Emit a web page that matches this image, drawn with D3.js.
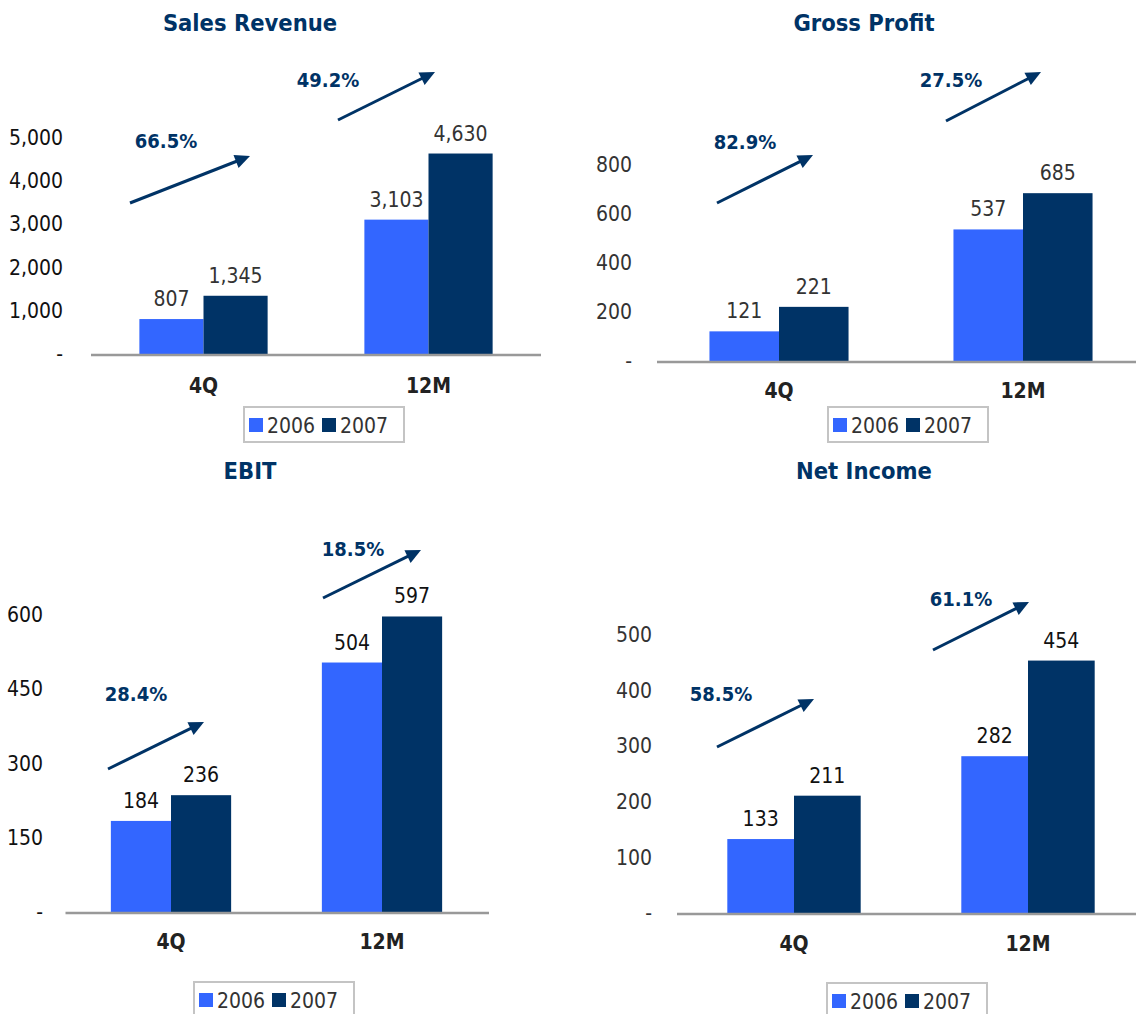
<!DOCTYPE html>
<html>
<head>
<meta charset="utf-8">
<script src="https://cdn.jsdelivr.net/npm/d3@7"></script>
<style>
  body { margin: 0; background: #fff; }
  svg { font-family: "DejaVu Sans Condensed", "DejaVu Sans", sans-serif; font-stretch: condensed; }
</style>
</head>
<body>
<div id="chart"></div>
<script>
const categories = ["4Q", "12M"];
const years = ["2006", "2007"];

const salesRevenue2006 = [807, 3103];
const salesRevenue2007 = [1345, 4630];
const grossProfit2006 = [121, 537];
const grossProfit2007 = [221, 685];
const ebit2006 = [184, 504];
const ebit2007 = [236, 597];
const netIncome2006 = [133, 282];
const netIncome2007 = [211, 454];

const salesGrowth = ["66.5%", "49.2%"];
const grossGrowth = ["82.9%", "27.5%"];
const ebitGrowth = ["28.4%", "18.5%"];
const netGrowth = ["58.5%", "61.1%"];

const salesTicks = [0, 1000, 2000, 3000, 4000, 5000];
const grossTicks = [0, 200, 400, 600, 800];
const ebitTicks = [0, 150, 300, 450, 600];
const netTicks = [0, 100, 200, 300, 400, 500];

const colors = { "2006": "#3366ff", "2007": "#003366" };
const navy = "#003366";

const width = 1136, height = 1014;

const svg = d3.select("#chart")
              .append("svg")
              .attr("width", width)
              .attr("height", height);

// layout of each panel (page pixels)
const panels = [
  { title: "Sales Revenue", titleX: 250, titleY: 31,
    v2006: salesRevenue2006, v2007: salesRevenue2007, ticks: salesTicks, growth: salesGrowth,
    x0: 91, x1: 541, axisEnd: 541, y0: 354, yTop: 137.5, tickX: 63, tickColor: "#111", valueColor: "#333",
    catY: 393, legend: { x: 244, y: 407 },
    arrows: [ { lx: 166, ly: 148, a: [130, 203, 250, 156] },
              { lx: 328, ly: 87,  a: [338, 120, 435, 72] } ] },
  { title: "Gross Profit", titleX: 864, titleY: 31,
    v2006: grossProfit2006, v2007: grossProfit2007, ticks: grossTicks, growth: grossGrowth,
    x0: 657, x1: 1145, axisEnd: 1136, y0: 361, yTop: 165, tickX: 632, tickColor: "#333", valueColor: "#333",
    catY: 398, legend: { x: 828, y: 407 },
    arrows: [ { lx: 745, ly: 149, a: [717, 203, 813, 155] },
              { lx: 951, ly: 87,  a: [946, 121, 1041, 72] } ] },
  { title: "EBIT", titleX: 250, titleY: 479,
    v2006: ebit2006, v2007: ebit2007, ticks: ebitTicks, growth: ebitGrowth,
    x0: 65.5, x1: 487.5, axisEnd: 489, y0: 912, yTop: 615, tickX: 43, tickColor: "#111", valueColor: "#111",
    catY: 949, legend: { x: 194, y: 982 },
    arrows: [ { lx: 136, ly: 701, a: [108, 769, 204, 722] },
              { lx: 353, ly: 556, a: [323, 598, 421, 550] } ] },
  { title: "Net Income", titleX: 864, titleY: 479,
    v2006: netIncome2006, v2007: netIncome2007, ticks: netTicks, growth: netGrowth,
    x0: 677, x1: 1145, axisEnd: 1136, y0: 913, yTop: 635, tickX: 652, tickColor: "#333", valueColor: "#111",
    catY: 951, legend: { x: 827, y: 983 },
    arrows: [ { lx: 721, ly: 701, a: [717, 747, 814, 699] },
              { lx: 961, ly: 606, a: [933, 650, 1029, 602] } ] }
];

function drawArrow(g, [ax, ay, bx, by])
{
  const ang = Math.atan2(by - ay, bx - ax);
  const head = 15, half = 7;
  const cx = bx - head * Math.cos(ang), cy = by - head * Math.sin(ang);

  g.append("line")
   .attr("x1", ax).attr("y1", ay)
   .attr("x2", cx + 2 * Math.cos(ang)).attr("y2", cy + 2 * Math.sin(ang))
   .attr("stroke", navy)
   .attr("stroke-width", 3);

  const px = -Math.sin(ang), py = Math.cos(ang);
  g.append("polygon")
   .attr("points", [[bx, by], [cx + half * px, cy + half * py], [cx - half * px, cy - half * py]]
                    .map(p => p.join(",")).join(" "))
   .attr("fill", navy);
}

panels.forEach(p => {
  const g = svg.append("g");

  const rows = categories.map((c, i) => ({ cat: c, "2006": p.v2006[i], "2007": p.v2007[i] }));

  const x = d3.scaleBand()
              .domain(categories)
              .range([p.x0, p.x1]);

  const inner = d3.scaleBand()
                  .domain(years)
                  .range([0, x.bandwidth() * 0.57]);

  const topVal = p.ticks[p.ticks.length - 1];
  const y = d3.scaleLinear()
              .domain([0, topVal])
              .range([p.y0, p.yTop]);

  // title
  g.append("text")
   .attr("x", p.titleX)
   .attr("y", p.titleY)
   .attr("text-anchor", "middle")
   .attr("font-size", 23.5)
   .attr("font-weight", "bold")
   .attr("fill", navy)
   .text(p.title);

  // y axis labels
  const yAxis = g.append("g")
                 .attr("transform", `translate(${p.tickX},0)`)
                 .call(d3.axisLeft(y)
                         .tickValues(p.ticks)
                         .tickSize(0)
                         .tickPadding(0)
                         .tickFormat(d => d === 0 ? "-" : d3.format(",")(d)));
  yAxis.select(".domain").remove();
  yAxis.selectAll("text")
       .attr("font-size", 21)
       .attr("fill", p.tickColor)
       .attr("font-family", "DejaVu Sans Condensed, DejaVu Sans, sans-serif");

  // bars
  const groups = g.selectAll(".grp")
                  .data(rows)
                  .join("g")
                  .attr("transform", d => `translate(${x(d.cat) + (x.bandwidth() - inner.range()[1]) / 2},0)`);

  groups.selectAll("rect")
        .data(d => years.map(k => ({ key: k, value: d[k] })))
        .join("rect")
        .attr("x", d => inner(d.key))
        .attr("y", d => y(d.value))
        .attr("width", inner.bandwidth())
        .attr("height", d => p.y0 - y(d.value))
        .attr("fill", d => colors[d.key]);

  groups.selectAll(".val")
        .data(d => years.map(k => ({ key: k, value: d[k] })))
        .join("text")
        .attr("class", "val")
        .attr("x", d => inner(d.key) + inner.bandwidth() / 2)
        .attr("y", d => y(d.value) - 13)
        .attr("text-anchor", "middle")
        .attr("font-size", 21)
        .attr("fill", p.valueColor)
        .text(d => d3.format(",")(d.value));

  // x axis line
  g.append("line")
   .attr("x1", p.x0)
   .attr("x2", p.axisEnd)
   .attr("y1", p.y0 + 1)
   .attr("y2", p.y0 + 1)
   .attr("stroke", "#999")
   .attr("stroke-width", 2.5);

  const xAxis = g.append("g")
                 .attr("transform", `translate(0,${p.catY})`)
                 .call(d3.axisBottom(x).tickSize(0).tickPadding(0));
  xAxis.select(".domain").remove();
  xAxis.selectAll("text")
       .attr("dy", 0)
       .attr("font-size", 21)
       .attr("font-weight", "bold")
       .attr("fill", "#222")
       .attr("font-family", "DejaVu Sans Condensed, DejaVu Sans, sans-serif");

  // growth arrows
  p.arrows.forEach((a, i) => {
    g.append("text")
     .attr("x", a.lx)
     .attr("y", a.ly)
     .attr("text-anchor", "middle")
     .attr("font-size", 20)
     .attr("font-weight", "bold")
     .attr("fill", navy)
     .text(p.growth[i]);
    drawArrow(g, a.a);
  });

  // legend
  const lg = g.append("g")
              .attr("transform", `translate(${p.legend.x},${p.legend.y})`);
  lg.append("rect")
    .attr("x", 0).attr("y", 0)
    .attr("width", 160).attr("height", 35)
    .attr("fill", "#fff")
    .attr("stroke", "#c4c4c4")
    .attr("stroke-width", 2);
  years.forEach((yr, i) => {
    lg.append("rect")
      .attr("x", 5 + i * 73).attr("y", 11)
      .attr("width", 14).attr("height", 14)
      .attr("fill", colors[yr]);
    lg.append("text")
      .attr("x", 23 + i * 73).attr("y", 26)
      .attr("font-size", 21)
      .attr("fill", "#333")
      .text(yr);
  });
});
</script>
</body>
</html>
